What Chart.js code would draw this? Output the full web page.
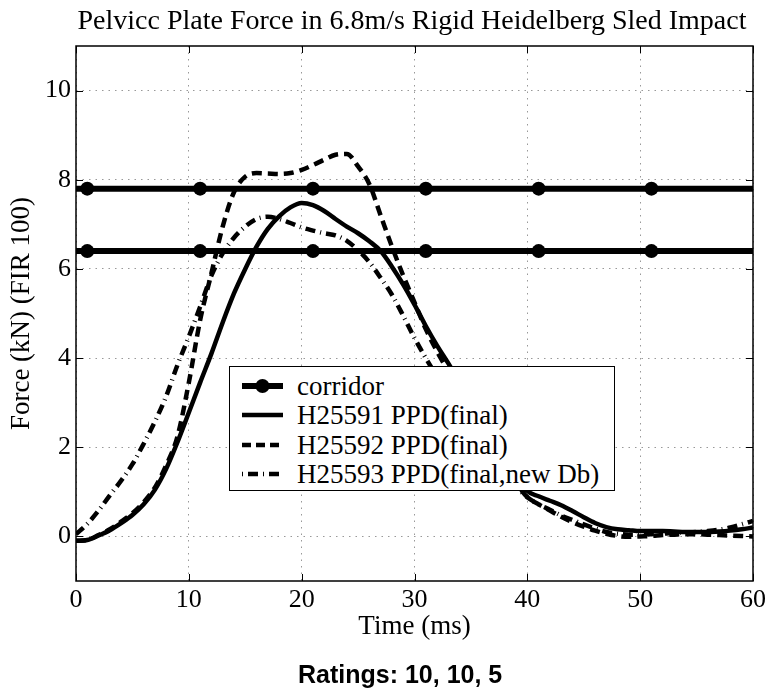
<!DOCTYPE html>
<html><head><meta charset="utf-8">
<script src="https://cdn.jsdelivr.net/npm/chart.js@4/dist/chart.umd.min.js"></script>
<style>
html,body{margin:0;padding:0;background:#fff;}
#wrap{position:relative;width:770px;height:690px;overflow:hidden;}
#title{position:absolute;left:62px;width:700px;top:4px;text-align:center;font:28px/32px "Liberation Serif","Times New Roman",serif;color:#000;white-space:nowrap;}
#legend{position:absolute;left:229px;top:366px;width:386px;height:125px;box-sizing:border-box;background:#fff;border:1.5px solid #000;font-family:"Liberation Serif","Times New Roman",serif;font-size:27px;color:#000;}
.row{position:absolute;left:0;height:30px;width:100%;}
.row svg{position:absolute;left:11px;top:0;}
.row span{position:absolute;left:67px;top:0;line-height:30px;white-space:nowrap;}
#ratings{position:absolute;left:298px;top:662px;font:bold 25px/24px "Liberation Sans",Arial,sans-serif;white-space:nowrap;color:#000;}
</style></head>
<body>
<div id="wrap">
<canvas id="c" width="770" height="690"></canvas>
<div id="title"></div>
<div id="legend">
  <div class="row" style="top:4px"><svg width="44" height="30"><line x1="1" y1="15" x2="42" y2="15" stroke="#000" stroke-width="6"/><circle cx="21.5" cy="15" r="7" fill="#000"/></svg><span>corridor</span></div>
  <div class="row" style="top:33px"><svg width="44" height="30"><line x1="1" y1="15" x2="42" y2="15" stroke="#000" stroke-width="4.5"/></svg><span>H25591 PPD(final)</span></div>
  <div class="row" style="top:63px"><svg width="44" height="30"><line x1="1" y1="15" x2="42" y2="15" stroke="#000" stroke-width="4.5" stroke-dasharray="9 5"/></svg><span>H25592 PPD(final)</span></div>
  <div class="row" style="top:92px"><svg width="44" height="30"><line x1="1" y1="15" x2="42" y2="15" stroke="#000" stroke-width="4.5" stroke-dasharray="1 5 10 5"/></svg><span>H25593 PPD(final,new Db)</span></div>
</div>
<div id="ratings">Ratings: 10, 10, 5</div>
</div>
<script>
// ---- data ----
const timeMs = [0,1,2,3,4,5,6,7,8,9,10,11,12,13,14,15,16,17,18,19,20,21,22,23,24,25,26,27,28,29,30,31,32,33,34,35,36,37,38,39,40,41,42,43,44,45,46,47,48,49,50,51,52,53,54,55,56,57,58,59,60];
const h25591 = [-0.10,-0.08,0.02,0.14,0.30,0.48,0.72,1.05,1.52,2.12,2.78,3.45,4.10,4.80,5.45,6.00,6.50,6.90,7.18,7.38,7.48,7.43,7.30,7.12,6.95,6.80,6.62,6.40,6.05,5.65,5.20,4.72,4.28,3.88,3.45,3.02,2.60,2.20,1.80,1.40,1.02,0.90,0.80,0.70,0.57,0.43,0.30,0.21,0.16,0.14,0.12,0.12,0.12,0.11,0.10,0.10,0.10,0.11,0.13,0.16,0.20];
const h25592 = [-0.10,-0.08,0.03,0.16,0.33,0.52,0.77,1.10,1.60,2.25,3.45,4.85,5.90,6.95,7.72,8.07,8.15,8.14,8.13,8.15,8.22,8.33,8.45,8.56,8.58,8.30,7.90,7.20,6.50,5.85,5.25,4.65,4.15,3.70,3.25,2.80,2.38,1.98,1.58,1.20,0.88,0.72,0.58,0.44,0.32,0.22,0.13,0.06,0.01,-0.01,0.00,0.01,0.03,0.04,0.05,0.05,0.04,0.03,0.02,0.01,0.00];
const h25593 = [0.05,0.28,0.58,0.92,1.25,1.62,2.08,2.58,3.15,3.85,4.48,5.15,5.85,6.35,6.70,6.95,7.12,7.17,7.12,7.03,6.93,6.86,6.80,6.75,6.63,6.42,6.15,5.80,5.42,4.95,4.45,4.00,3.58,3.18,2.78,2.40,2.05,1.72,1.42,1.12,0.88,0.72,0.60,0.47,0.37,0.27,0.18,0.10,0.06,0.04,0.04,0.05,0.06,0.08,0.09,0.10,0.12,0.15,0.20,0.27,0.35];
const corridorTimes = [0,1,11,21,31,41,51,60];
const corridorMarked = [false,true,true,true,true,true,true,false];
const corridorUpper = [7.8,7.8,7.8,7.8,7.8,7.8,7.8,7.8];
const corridorLower = [6.4,6.4,6.4,6.4,6.4,6.4,6.4,6.4];
const xTickValues = [0,10,20,30,40,50,60];
const yTickValues = [0,2,4,6,8,10];
const chartTitle = 'Pelvicc Plate Force in 6.8m/s Rigid Heidelberg Sled Impact';
const xTitle = 'Time (ms)';
const yTitle = 'Force (kN) (FIR 100)';

document.getElementById('title').textContent = chartTitle;

const pts = (xs, ys) => xs.map((t, i) => ({x: t, y: ys[i]}));
const serif = '"Liberation Serif","Times New Roman",serif';

const frame = {
  id: 'frame',
  afterDatasetsDraw(chart) {
    const {ctx, chartArea: a, scales: {x, y}} = chart;
    ctx.save();
    ctx.strokeStyle = '#000';
    ctx.lineWidth = 1;
    ctx.setLineDash([]);
    ctx.beginPath();
    x.ticks.forEach(t => {
      const px = Math.round(x.getPixelForValue(t.value)) + 0.5;
      ctx.moveTo(px, a.bottom); ctx.lineTo(px, a.bottom - 7);
      ctx.moveTo(px, a.top); ctx.lineTo(px, a.top + 7);
    });
    y.ticks.forEach(t => {
      const py = Math.round(y.getPixelForValue(t.value)) + 0.5;
      ctx.moveTo(a.left, py); ctx.lineTo(a.left + 7, py);
      ctx.moveTo(a.right, py); ctx.lineTo(a.right - 7, py);
    });
    ctx.stroke();
    ctx.lineWidth = 1.5;
    ctx.strokeRect(a.left, a.top, a.right - a.left, a.bottom - a.top);
    ctx.restore();
  }
};

const corridorStyle = {
  borderColor: '#000', backgroundColor: '#000', borderWidth: 6, tension: 0,
  pointRadius: ctx => corridorMarked[ctx.dataIndex] ? 7 : 0,
  pointBackgroundColor: '#000', pointBorderColor: '#000', pointBorderWidth: 0, fill: false
};
const curve = (data, dash) => ({
  data, borderColor: '#000', borderWidth: 4.5, borderDash: dash, pointRadius: 0,
  cubicInterpolationMode: 'monotone', fill: false
});

new Chart(document.getElementById('c'), {
  type: 'line',
  data: {
    datasets: [
      Object.assign({label: 'corridor', data: pts(corridorTimes, corridorUpper)}, corridorStyle),
      Object.assign({label: 'corridor', data: pts(corridorTimes, corridorLower)}, corridorStyle),
      Object.assign({label: 'H25591 PPD(final)'}, curve(pts(timeMs, h25591), [])),
      Object.assign({label: 'H25592 PPD(final)'}, curve(pts(timeMs, h25592), [10, 6])),
      Object.assign({label: 'H25593 PPD(final,new Db)'}, curve(pts(timeMs, h25593), [10, 5, 1, 5]))
    ]
  },
  options: {
    responsive: false, animation: false, devicePixelRatio: 1,
    layout: {padding: {left: 0, right: 15, top: 46, bottom: 47}},
    plugins: {
      legend: {display: false},
      tooltip: {enabled: false},
      title: {display: false}
    },
    scales: {
      x: {
        type: 'linear', min: 0, max: 60,
        afterBuildTicks: s => { s.ticks = xTickValues.map(v => ({value: v})); },
        afterFit: s => { s.height = 62; },
        ticks: {color: '#000', font: {family: serif, size: 26}, padding: 4, maxRotation: 0},
        grid: {color: '#999', lineWidth: 1, drawTicks: false},
        border: {display: false, dash: [1.5, 5]},
        title: {display: true, text: xTitle, color: '#000', font: {family: serif, size: 27}, padding: 0}
      },
      y: {
        type: 'linear', min: -1, max: 11,
        afterBuildTicks: s => { s.ticks = yTickValues.map(v => ({value: v})); },
        afterFit: s => { s.width = 76; },
        ticks: {color: '#000', font: {family: serif, size: 26}, padding: 5},
        grid: {color: '#999', lineWidth: 1, drawTicks: false},
        border: {display: false, dash: [1.5, 5]},
        title: {display: true, text: yTitle, color: '#000', font: {family: serif, size: 27}, padding: {top: 6, bottom: 0}}
      }
    }
  },
  plugins: [frame]
});
</script>
</body></html>
